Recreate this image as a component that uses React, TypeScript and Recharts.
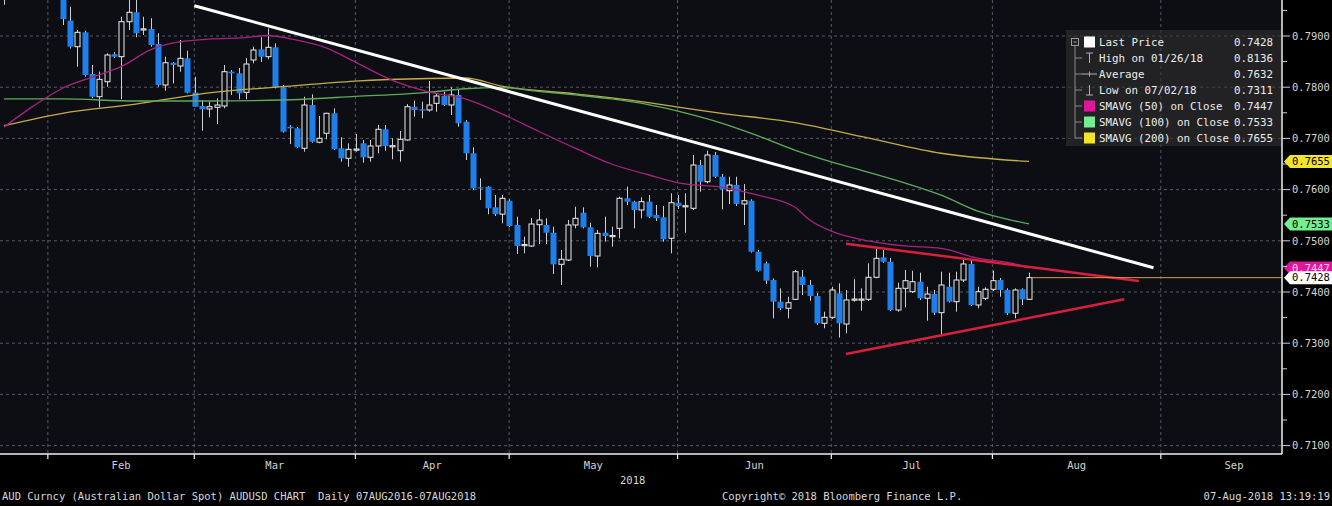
import React from 'react';
import { ComposedChart, Bar, Line, XAxis, YAxis, CartesianGrid, ReferenceLine } from 'recharts';

const FONT = '"DejaVu Sans Mono", "Liberation Mono", monospace';

// Trading days (2018) shown on the chart
const dates = [
  '01/23','01/24','01/25','01/26','01/29','01/30','01/31',
  '02/01','02/02','02/05','02/06','02/07','02/08','02/09','02/12','02/13','02/14','02/15','02/16','02/19','02/20','02/21','02/22','02/23','02/26','02/27','02/28',
  '03/01','03/02','03/05','03/06','03/07','03/08','03/09','03/12','03/13','03/14','03/15','03/16','03/19','03/20','03/21','03/22','03/23','03/26','03/27','03/28','03/29','03/30',
  '04/02','04/03','04/04','04/05','04/06','04/09','04/10','04/11','04/12','04/13','04/16','04/17','04/18','04/19','04/20','04/23','04/24','04/25','04/26','04/27','04/30',
  '05/01','05/02','05/03','05/04','05/07','05/08','05/09','05/10','05/11','05/14','05/15','05/16','05/17','05/18','05/21','05/22','05/23','05/24','05/25','05/28','05/29','05/30','05/31',
  '06/01','06/04','06/05','06/06','06/07','06/08','06/11','06/12','06/13','06/14','06/15','06/18','06/19','06/20','06/21','06/22','06/25','06/26','06/27','06/28','06/29',
  '07/02','07/03','07/04','07/05','07/06','07/09','07/10','07/11','07/12','07/13','07/16','07/17','07/18','07/19','07/20','07/23','07/24','07/25','07/26','07/27','07/30','07/31',
  '08/01','08/02','08/03','08/06','08/07',
];

const opens = [
  0.7990,0.8010,0.8085,0.8065,0.8100,0.8075,0.8045,0.8060,0.8020,
  0.79299,0.78791,0.79072,0.78258,0.77814,0.78107,0.78643,0.78596,0.79279,0.79463,
  0.79130,0.79137,0.78844,0.78043,0.78478,0.78414,0.78564,0.77893,
  0.77633,0.77574,0.77607,0.77633,0.78303,0.78271,0.77900,0.78531,0.78740,0.78596,
  0.78779,0.77998,0.77228,0.77197,0.76807,0.77652,0.76924,0.77100,0.77490,0.76807,
  0.76611,0.76783,0.76904,0.76631,0.76852,0.77178,0.76852,0.76760,0.76969,0.77619,
  0.77568,0.77555,0.77685,0.77828,0.77652,0.77848,0.77326,0.76709,0.76045,0.76057,
  0.75654,0.75520,0.75783,0.75309,0.74918,0.74898,0.75314,0.75309,0.75158,0.74541,
  0.74625,0.75309,0.75549,0.75264,0.74703,0.75158,0.75096,0.75244,0.75830,0.75764,
  0.75602,0.75764,0.75504,0.75459,0.75049,0.75744,0.75680,0.75635,0.76480,0.76154,
  0.76676,0.76252,0.75978,0.76090,0.75719,0.75783,0.74787,0.74560,0.74234,0.73811,
  0.73682,0.73857,0.74299,0.74137,0.73922,0.73389,0.73506,0.73975,0.73375,0.73852,
  0.73857,0.73857,0.74287,0.74678,0.74592,0.73648,0.74072,0.74006,0.74201,0.73877,
  0.73961,0.73596,0.74103,0.73811,0.74234,0.74547,0.73746,0.73877,0.74053,0.74234,
  0.74039,0.73584,0.74053,0.73857,
];

const highs = [
  0.8025,0.8090,0.8120,0.8136,0.8120,0.8085,0.8080,0.8070,0.8030,
  0.79572,0.79117,0.79103,0.78434,0.78303,0.78662,0.78687,0.79377,0.7988,0.7980,
  0.79377,0.79346,0.79053,0.78596,0.78492,0.78922,0.78713,0.78205,
  0.77750,0.77717,0.77783,0.78434,0.78336,0.78375,0.78570,0.78791,0.78975,0.79150,
  0.78857,0.78043,0.77262,0.77223,0.77814,0.77861,0.77437,0.77502,0.77588,0.77021,
  0.76904,0.77086,0.76969,0.76969,0.77262,0.77262,0.77002,0.77144,0.77672,0.77736,
  0.77717,0.78121,0.77881,0.77912,0.77998,0.77959,0.77359,0.76826,0.76221,0.76070,
  0.75894,0.75894,0.75811,0.75471,0.75080,0.75445,0.75615,0.75439,0.75275,0.74820,
  0.75406,0.75666,0.75654,0.75353,0.75211,0.75471,0.75275,0.75861,0.76057,0.75783,
  0.75850,0.75894,0.75699,0.75680,0.75928,0.75894,0.75928,0.76676,0.76578,0.76760,
  0.76734,0.76305,0.76252,0.76252,0.76109,0.75811,0.74820,0.74592,0.74267,0.74072,
  0.73908,0.74430,0.74430,0.74234,0.73980,0.73615,0.74103,0.74170,0.74039,0.74248,
  0.74072,0.74560,0.74853,0.74820,0.74664,0.74182,0.74430,0.74416,0.74377,0.74103,
  0.74039,0.74396,0.74377,0.74396,0.74639,0.74625,0.74103,0.74092,0.74416,0.74273,
  0.74072,0.74072,0.74072,0.74377,
];

const lows = [
  0.7961,0.8000,0.8030,0.8045,0.8060,0.8025,0.8010,0.7985,0.79215,
  0.78756,0.78400,0.78205,0.77783,0.77607,0.78010,0.78570,0.77764,0.79117,0.78975,
  0.79019,0.78791,0.78010,0.77932,0.78076,0.78303,0.77881,0.77613,
  0.77150,0.77412,0.77281,0.77588,0.77848,0.77764,0.77764,0.78467,0.78492,0.78545,
  0.77978,0.77111,0.76891,0.76812,0.76740,0.76916,0.76904,0.76982,0.76773,0.76545,
  0.76447,0.76740,0.76525,0.76545,0.76709,0.76760,0.76592,0.76545,0.76955,0.77424,
  0.77393,0.77521,0.77521,0.77633,0.77457,0.77228,0.76578,0.75992,0.75797,0.75520,
  0.75484,0.75342,0.75264,0.74742,0.74756,0.74879,0.74937,0.74937,0.74352,0.74137,
  0.74605,0.75244,0.75244,0.74494,0.74482,0.74982,0.74885,0.75049,0.75699,0.75244,
  0.75439,0.75445,0.75387,0.74982,0.74756,0.75621,0.75158,0.75602,0.75959,0.76123,
  0.76227,0.75615,0.75719,0.75680,0.75309,0.74768,0.74396,0.74156,0.73486,0.73648,
  0.73486,0.73844,0.73941,0.73830,0.73355,0.73291,0.73473,0.73110,0.73193,0.73811,
  0.73635,0.73824,0.74267,0.74566,0.73629,0.73615,0.73701,0.73980,0.73844,0.73439,
  0.73551,0.73180,0.73795,0.73615,0.74195,0.73727,0.73682,0.73844,0.74020,0.73908,
  0.73551,0.73486,0.73746,0.73844,
];

const closes = [
  0.8010,0.8085,0.8065,0.8100,0.8075,0.8045,0.8060,0.8020,0.79332,
  0.78791,0.79072,0.78238,0.77814,0.78154,0.78629,0.78596,0.79279,0.79463,0.79053,
  0.79140,0.78824,0.78043,0.78478,0.78434,0.78564,0.77893,0.77619,
  0.77568,0.77619,0.77652,0.78303,0.78271,0.77881,0.78453,0.78726,0.78596,0.78779,
  0.77998,0.77131,0.77197,0.76826,0.77652,0.76936,0.77002,0.77490,0.76787,0.76611,
  0.76787,0.76793,0.76631,0.76852,0.77178,0.76852,0.76858,0.76982,0.77619,0.77555,
  0.77541,0.77652,0.77828,0.77652,0.77848,0.77295,0.76709,0.76025,0.76037,0.75635,
  0.75520,0.75830,0.75289,0.74898,0.74928,0.75328,0.75406,0.75158,0.74541,0.74639,
  0.75309,0.75439,0.75264,0.74703,0.75146,0.75094,0.75104,0.75830,0.75764,0.75602,
  0.75764,0.75471,0.75439,0.75029,0.75744,0.75680,0.75686,0.76480,0.76154,0.76676,
  0.76252,0.76006,0.76090,0.75719,0.75783,0.74787,0.74416,0.74221,0.73811,0.73682,
  0.73791,0.74396,0.74137,0.73922,0.73389,0.73506,0.74039,0.73389,0.73844,0.73863,
  0.73863,0.74287,0.74658,0.74592,0.73648,0.74072,0.74221,0.74201,0.73877,0.73961,
  0.73596,0.74137,0.73811,0.74234,0.74547,0.73746,0.74006,0.74053,0.74221,0.74039,
  0.73584,0.74039,0.73857,0.7428,
];

// Moving averages read at selected trading-day indices: [dayIndex, value]
const sma50Points: [number, number][] = [
  [0,0.7722],[4,0.7763],[8,0.7798],[13,0.7824],[16,0.7840],[20,0.7873],[23,0.7886],[28,0.7894],
  [33,0.7897],[36,0.7901],[40,0.7892],[44,0.7877],[48,0.7849],[53,0.7814],[58,0.7791],[63,0.7777],
  [68,0.7748],[73,0.7714],[78,0.7681],[83,0.7650],[88,0.7629],[93,0.7611],[98,0.7605],[103,0.7589],
  [108,0.7566],[110,0.7541],[113,0.7519],[118,0.7500],[123,0.7490],[128,0.7485],[133,0.7466],[138,0.7455],[140,0.7447],
];
const sma100Points: [number, number][] = [
  [0,0.7777],[8,0.7777],[18,0.7773],[28,0.7773],[38,0.7775],[48,0.7782],[58,0.7790],[63,0.7797],
  [68,0.7799],[73,0.7792],[78,0.7785],[83,0.7777],[88,0.7766],[93,0.7750],[98,0.7730],[103,0.7705],
  [108,0.7677],[113,0.7654],[118,0.7634],[123,0.7613],[128,0.7589],[133,0.7558],[138,0.7539],[140,0.7533],
];
const sma200Points: [number, number][] = [
  [0,0.7725],[8,0.7749],[18,0.7767],[28,0.7789],[38,0.7801],[48,0.7812],[58,0.7817],[63,0.7818],
  [68,0.7802],[78,0.7787],[88,0.7770],[93,0.7759],[98,0.7749],[108,0.7731],[118,0.7701],[128,0.7671],[140,0.7655],
];

// Axis setup (trading-day index)
const xDomain: [number, number] = [-0.536, 174.55];
const yDomain: [number, number] = [0.70836, 0.79703];
const monthEnds = [6, 26, 48, 69, 92, 113, 135, 158];
const monthLabelPos = [16, 37, 58.5, 80.5, 102.5, 124, 146.5, 168];
const monthLabels = ['Feb', 'Mar', 'Apr', 'May', 'Jun', 'Jul', 'Aug', 'Sep'];
const yMajor = [0.71, 0.72, 0.73, 0.74, 0.75, 0.76, 0.77, 0.78, 0.79];
const yMinor = [0.715, 0.725, 0.735, 0.745, 0.755, 0.765, 0.775, 0.785, 0.795];

// Drawn trend lines [dayIndex, price]
const downTrend = [{ x: 26, y: 0.79592 }, { x: 157, y: 0.74475 }];
const upperTriangle = [{ x: 115, y: 0.74943 }, { x: 155, y: 0.74215 }];
const lowerTriangle = [{ x: 115, y: 0.72789 }, { x: 153, y: 0.73857 }];

const lastPrice = 0.7428;

const priceTags = [
  { value: 0.7655, fill: '#f2e42a', color: '#000000' },
  { value: 0.7533, fill: '#74ee8e', color: '#000000' },
  { value: 0.7447, fill: '#e0169a', color: '#ffd0ee' },
  { value: 0.7428, fill: '#ffffff', color: '#000000' },
];

const legendRows = [
  { label: 'Last Price', value: '0.7428', sym: 'box', color: '#ffffff' },
  { label: 'High on 01/26/18', value: '0.8136', sym: 'high', color: '' },
  { label: 'Average', value: '0.7632', sym: 'avg', color: '' },
  { label: 'Low on 07/02/18', value: '0.7311', sym: 'low', color: '' },
  { label: 'SMAVG (50) on Close', value: '0.7447', sym: 'box', color: '#e0169a' },
  { label: 'SMAVG (100) on Close', value: '0.7533', sym: 'box', color: '#74ee8e' },
  { label: 'SMAVG (200) on Close', value: '0.7655', sym: 'box', color: '#f2e42a' },
];

const toMap = (pts: [number, number][]) => new Map(pts.map(([i, v]) => [i, v]));
const m50 = toMap(sma50Points);
const m100 = toMap(sma100Points);
const m200 = toMap(sma200Points);

const rows = dates.map((d, i) => ({
  idx: i,
  date: d,
  open: opens[i],
  high: highs[i],
  low: lows[i],
  close: closes[i],
  sma50: m50.has(i) ? m50.get(i) : null,
  sma100: m100.has(i) ? m100.get(i) : null,
  sma200: m200.has(i) ? m200.get(i) : null,
}));

const lastIdx = rows.length - 1;
const xTicks = [...monthEnds, ...monthLabelPos].sort((a, b) => a - b);
const yTicks = [...yMajor, ...yMinor].sort((a, b) => a - b);

const PLOT_BG = '#0d0e13';
const BLUE = '#1f7fea';

const Candle = (props: any) => {
  const { x, y, width, height, payload } = props;
  if (!payload || x == null || y == null) return null;
  const { open, close, high, low } = payload;
  const top = Math.min(y, y + height);
  const span = Math.abs(height);
  if (!(high > low) || !(span > 0)) return null;
  const ppu = span / (high - low);
  const yOf = (v: number) => top + (high - v) * ppu;
  const cx = Math.round(x + width / 2) + 0.5;
  const up = close >= open;
  const bTop = yOf(Math.max(open, close));
  const bBot = yOf(Math.min(open, close));
  const bh = Math.max(1.2, bBot - bTop);
  return (
    <g>
      <line x1={cx} x2={cx} y1={top} y2={top + span} stroke="#cfcfcf" strokeWidth={1} />
      {up ? (
        <rect x={cx - 2.5} y={bTop} width={5} height={bh} fill={PLOT_BG} stroke="#ececec" strokeWidth={1} />
      ) : (
        <rect x={cx - 3} y={bTop} width={6} height={bh} fill={BLUE} />
      )}
    </g>
  );
};

const XTick = (props: any) => {
  const { x, y, payload } = props;
  const v = payload.value;
  if (monthEnds.includes(v)) {
    return <line x1={x} x2={x} y1={y} y2={y + 5} stroke="#f0f0f0" strokeWidth={1.2} />;
  }
  const li = monthLabelPos.indexOf(v);
  return (
    <text x={x} y={y + 15} textAnchor="middle" fill="#d2d2d2" fontSize={10.5} fontFamily={FONT}>
      {monthLabels[li]}
    </text>
  );
};

const YTick = (props: any) => {
  const { x, y, payload } = props;
  const v = payload.value;
  const major = yMajor.some((m) => Math.abs(m - v) < 1e-7);
  const ax = x - 10;
  return (
    <g>
      <line x1={ax} x2={ax + (major ? 8 : 5)} y1={y} y2={y} stroke="#d0d0d0" strokeWidth={1} />
      {major && (
        <text x={x} y={y} dy={3.8} fill="#d4d4d4" fontSize={10.5} fontFamily={FONT}>
          {v.toFixed(4)}
        </text>
      )}
    </g>
  );
};

const ValueTag = (props: any) => {
  const { viewBox, fill, color, txt } = props;
  if (!viewBox) return null;
  const x0 = viewBox.x + viewBox.width + 2;
  const cy = viewBox.y;
  const h = 6.5;
  const pts = `${x0},${cy} ${x0 + 6},${cy - h} ${x0 + 50},${cy - h} ${x0 + 50},${cy + h} ${x0 + 6},${cy + h}`;
  return (
    <g>
      <polygon points={pts} fill={fill} />
      <text x={x0 + 8} y={cy + 3.8} fill={color} fontSize={10.5} fontFamily={FONT}>
        {txt}
      </text>
    </g>
  );
};

const LegendBox = () => {
  const rowY = (i: number) => 12 + 16 * i;
  return (
    <svg width={215} height={116} style={{ position: 'absolute', left: 1066, top: 30 }}>
      <rect x={0} y={0} width={215} height={116} fill="rgba(48,48,48,0.6)" />
      <rect x={5.5} y={8.5} width={7} height={7} fill="none" stroke="#9a9a9a" strokeWidth={1} />
      <line x1={7.5} x2={10.5} y1={12} y2={12} stroke="#9a9a9a" strokeWidth={1} />
      <line x1={9} x2={9} y1={16} y2={rowY(6)} stroke="#8a8a8a" strokeWidth={1} />
      {legendRows.map((r, i) => {
        const cy = rowY(i);
        return (
          <g key={r.label}>
            {i > 0 && <line x1={9} x2={16} y1={cy} y2={cy} stroke="#8a8a8a" strokeWidth={1} />}
            {r.sym === 'box' && <rect x={18} y={cy - 5.5} width={11} height={11} fill={r.color} />}
            {r.sym === 'high' && (
              <g stroke="#b0b0b0" strokeWidth={1}>
                <line x1={20} x2={27} y1={cy - 5} y2={cy - 5} />
                <line x1={23.5} x2={23.5} y1={cy - 5} y2={cy + 5} />
              </g>
            )}
            {r.sym === 'avg' && (
              <g stroke="#b0b0b0" strokeWidth={1}>
                <line x1={16} x2={31} y1={cy} y2={cy} />
                <line x1={23.5} x2={23.5} y1={cy - 2.5} y2={cy + 2.5} />
              </g>
            )}
            {r.sym === 'low' && (
              <g stroke="#b0b0b0" strokeWidth={1}>
                <line x1={20} x2={27} y1={cy + 5} y2={cy + 5} />
                <line x1={23.5} x2={23.5} y1={cy - 5} y2={cy + 5} />
              </g>
            )}
            <text x={33} y={cy + 4} fill="#ececec" fontSize={10.8} fontFamily={FONT}>
              {r.label}
            </text>
            <text x={207} y={cy + 4} textAnchor="end" fill="#ececec" fontSize={10.8} fontFamily={FONT}>
              {r.value}
            </text>
          </g>
        );
      })}
    </svg>
  );
};

const textStyle: React.CSSProperties = {
  position: 'absolute',
  fontFamily: FONT,
  fontSize: 10.5,
  color: '#d8d8d8',
  whiteSpace: 'pre',
  lineHeight: '14px',
};

export default function App() {
  return (
    <div style={{ position: 'fixed', left: 0, top: 0, width: 1332, height: 506, background: '#000', overflow: 'hidden' }}>
      <ComposedChart width={1332} height={506} data={rows} margin={{ top: 0, right: 0, bottom: 0, left: 0 }}>
        <CartesianGrid
          horizontalValues={yMajor}
          verticalValues={monthEnds}
          stroke="#555a60"
          strokeDasharray="3 3"
          fill={PLOT_BG}
          fillOpacity={1}
        />
        <XAxis
          type="number"
          dataKey="idx"
          domain={xDomain}
          allowDataOverflow
          ticks={xTicks}
          interval={0}
          height={52}
          axisLine={{ stroke: '#f0f0f0', strokeWidth: 1.5 }}
          tickLine={false}
          tickSize={0}
          tickMargin={0}
          tick={<XTick />}
        />
        <YAxis
          orientation="right"
          type="number"
          domain={yDomain}
          allowDataOverflow
          ticks={yTicks}
          interval={0}
          width={50}
          axisLine={{ stroke: '#f0f0f0', strokeWidth: 1.5 }}
          tickLine={false}
          tickSize={8}
          tickMargin={2}
          tick={<YTick />}
        />
        <Line type="monotone" dataKey="sma200" stroke="#c4ae48" strokeWidth={1.3} dot={false} activeDot={false} connectNulls isAnimationActive={false} />
        <Line type="monotone" dataKey="sma100" stroke="#5cac5c" strokeWidth={1.3} dot={false} activeDot={false} connectNulls isAnimationActive={false} />
        <Line type="monotone" dataKey="sma50" stroke="#a8237f" strokeWidth={1.3} dot={false} activeDot={false} connectNulls isAnimationActive={false} />
        <Bar dataKey={(d: any) => [d.low, d.high]} barSize={6} shape={<Candle />} activeBar={false} isAnimationActive={false} />
        <ReferenceLine segment={downTrend} stroke="#ffffff" strokeWidth={3} />
        <ReferenceLine segment={upperTriangle} stroke="#d8203e" strokeWidth={2.5} />
        <ReferenceLine segment={lowerTriangle} stroke="#d8203e" strokeWidth={2.5} />
        <ReferenceLine
          segment={[{ x: lastIdx + 0.4, y: lastPrice }, { x: xDomain[1], y: lastPrice }]}
          stroke="#e0964c"
          strokeWidth={1}
        />
        {priceTags.map((t) => (
          <ReferenceLine
            key={t.value}
            y={t.value}
            stroke="none"
            ifOverflow="visible"
            label={<ValueTag fill={t.fill} color={t.color} txt={t.value.toFixed(4)} />}
          />
        ))}
      </ComposedChart>
      <LegendBox />
      <div style={{ ...textStyle, left: 620, top: 473 }}>2018</div>
      <div style={{ ...textStyle, left: 2, top: 489 }}>AUD Curncy (Australian Dollar Spot) AUDUSD CHART  Daily 07AUG2016-07AUG2018</div>
      <div style={{ ...textStyle, left: 722, top: 489 }}>Copyright© 2018 Bloomberg Finance L.P.</div>
      <div style={{ ...textStyle, right: 2, top: 489 }}>07-Aug-2018 13:19:19</div>
    </div>
  );
}
